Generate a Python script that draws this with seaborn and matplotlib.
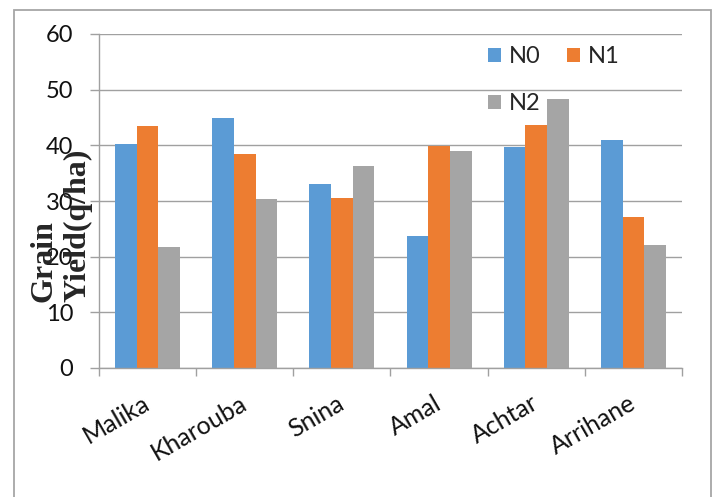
import matplotlib
matplotlib.use("Agg")
import matplotlib.pyplot as plt
from matplotlib.patches import Rectangle
from matplotlib.ticker import FixedLocator, MultipleLocator
import pandas as pd
import seaborn as sns

# Grain yield (q/ha) of six varieties under three nitrogen levels
varieties = ["Malika", "Kharouba", "Snina", "Amal", "Achtar", "Arrihane"]
treatments = ["N0", "N1", "N2"]
n0 = [40.3, 44.9, 33.0, 23.8, 39.7, 40.9]
n1 = [43.4, 38.5, 30.5, 39.9, 43.7, 27.2]
n2 = [21.8, 30.3, 36.2, 39.0, 48.3, 22.1]
colors = ["#5B9BD5", "#ED7D31", "#A5A5A5"]

rows = []
for trt, vals in zip(treatments, [n0, n1, n2]):
    for var, v in zip(varieties, vals):
        rows.append({"variety": var, "treatment": trt, "yield": v})
df = pd.DataFrame(rows)

sns.set_style("white")
plt.rcParams["font.family"] = ["Lato", "DejaVu Sans"]

W, H = 718, 497
fig = plt.figure(figsize=(W / 100, H / 100), dpi=100)
ax = fig.add_axes([99 / W, 1 - 368 / H, 583 / W, 334 / H])

sns.barplot(data=df, x="variety", y="yield", hue="treatment",
            order=varieties, hue_order=treatments, palette=colors,
            saturation=1, width=0.67, gap=0, linewidth=0, ax=ax)

grid_c = "#A0A0A0"
ax.set_xlim(-0.5, len(varieties) - 0.5)
ax.set_ylim(0, 60)
ax.yaxis.set_major_locator(MultipleLocator(10))
ax.set_axisbelow(True)
ax.grid(axis="y", color=grid_c, linewidth=1.0)
ax.grid(axis="x", visible=False)
for side in ["top", "right"]:
    ax.spines[side].set_visible(False)
for side in ["left", "bottom"]:
    ax.spines[side].set_visible(True)
    ax.spines[side].set_color(grid_c)
    ax.spines[side].set_linewidth(1.0)

ax.set_xlabel("")
ax.set_ylabel("")

# y ticks
ax.tick_params(axis="y", which="major", direction="out", length=6.5, width=1.0,
               color=grid_c, pad=12, labelsize=17, labelcolor="#111111", left=True)

# x labels at category centres, tick marks at category boundaries
ax.xaxis.set_minor_locator(FixedLocator([i - 0.5 for i in range(len(varieties) + 1)]))
ax.tick_params(axis="x", which="minor", direction="out", length=6, width=1.0,
               color=grid_c, bottom=True)
ax.tick_params(axis="x", which="major", length=0, pad=24, labelsize=18,
               labelcolor="#111111")
ax.set_xticks(range(len(varieties)))
ax.set_xticklabels(varieties, rotation=30, ha="right", va="center",
                   rotation_mode="anchor")

# legend: N0 and N1 on the first row, N2 below (columns fill top to bottom)
old = ax.get_legend()
handles = list(old.legend_handles)
labels = [t.get_text() for t in old.texts]
old.remove()
order = [0, 2, 1]
ax.legend([handles[i] for i in order], [labels[i] for i in order],
          ncol=2, loc="upper left",
          bbox_to_anchor=((488 - 99) / 583, (368 - 46) / 334),
          frameon=False, fontsize=17, handlelength=0.55, handleheight=0.55,
          handletextpad=0.35, columnspacing=1.1, labelspacing=1.1,
          borderpad=0, borderaxespad=0)

# y-axis title
fig.text(61 / W, 1 - 302 / H, "Grain\nYield(q/ha)", rotation=90,
         ha="center", va="bottom", multialignment="left",
         family="Liberation Serif", fontweight="bold", fontsize=23)

# chart area border
fig.patches.append(Rectangle((14 / W, -0.1), (711 - 14) / W, 1.1 - 10 / H,
                             transform=fig.transFigure, fill=False,
                             edgecolor="#A6A6A6", linewidth=1.3))

fig.savefig("out.png", dpi=100)
